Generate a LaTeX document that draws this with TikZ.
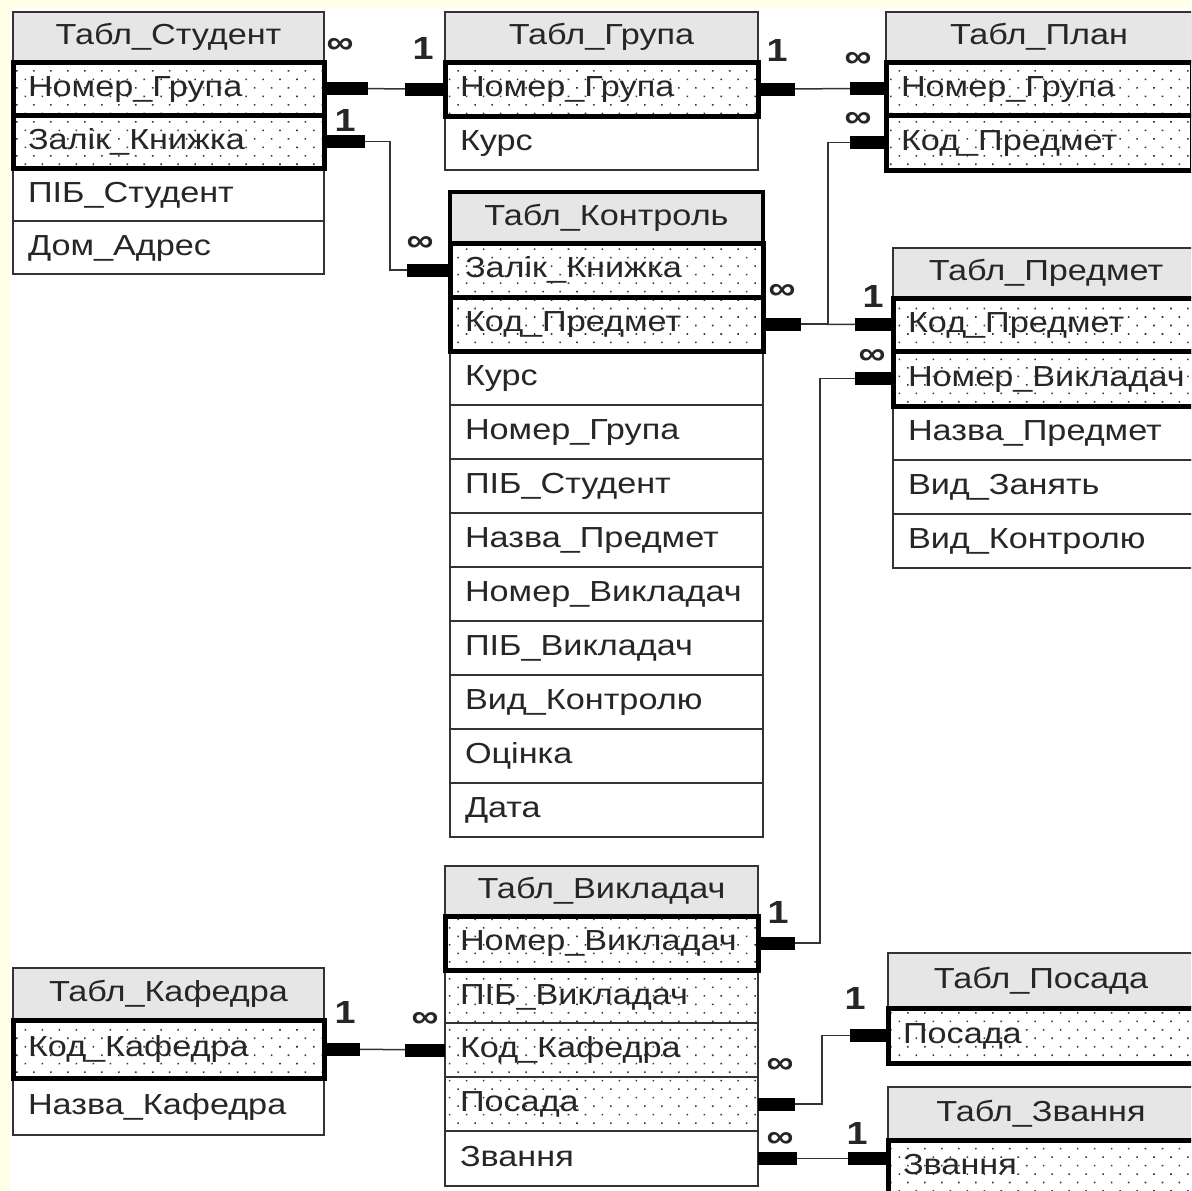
\documentclass[tikz,border=0pt]{standalone}
\usepackage{fontspec}
\setmainfont{Liberation Sans}[FakeStretch=1.18]
\usetikzlibrary{patterns.meta}
\definecolor{cream}{HTML}{FFFFE8}
\definecolor{hdrgray}{HTML}{E6E6E6}
\definecolor{frame}{HTML}{333333}
\tikzset{
 fld/.style={draw=frame, line width=1.5pt, anchor=north west, outer sep=0pt,
   inner xsep=15pt, inner ysep=0pt, text height=21pt, text depth=6pt,
   align=left, minimum height=#1, text=black!85,
   font=\fontsize{29}{32}\selectfont},
 fld/.default=54pt,
 dots/.style={pattern={Dots[distance=12pt, angle=45, radius=1.1pt]}, pattern color=black!80},
 dfld/.style={fld=#1, dots},
 dfld/.default=54pt,
 key/.style={fld=#1, dots, draw=black, line width=5pt},
 key/.default=54pt,
 hdr/.style={fld=#1, fill=hdrgray, align=center},
 hdr/.default=50pt,
 rel/.style={draw=black!80, line width=1.5pt},
 bar/.style={line width=13pt, line cap=butt},
 card/.style={font=\bfseries\fontsize{32}{32}\selectfont, inner sep=0pt, text=black!85}
}
\begin{document}
\begin{tikzpicture}[x=1pt, y=-1pt]
 \useasboundingbox (0,0) rectangle (1191,1191);
 \clip (0,0) rectangle (1191,1191);
 \fill[cream] (0,0) rectangle (1191,1191);
 \fill[white] (10,8) rectangle (1191,1191);

 % Табл_Студент
 \begin{scope}[every node/.append style={text width=281pt}]
 \path
 (13,12) node[hdr] (stud) {Табл\_Студент}
 (13,168) node[fld=53pt] (stud-pib) {ПІБ\_Студент}
 (13,221) node[fld=53pt] (stud-adr) {Дом\_Адрес}
 (13,62) node[key=53pt] (stud-grp) {Номер\_Група}
 (13,115) node[key=53pt] (stud-zk) {Залік\_Книжка};
 \end{scope}

 % Табл_Група
 \begin{scope}[every node/.append style={text width=283pt}]
 \path
 (445,12) node[hdr] (grp) {Табл\_Група}
 (445,116) node[fld] (grp-kurs) {Курс}
 (445,62) node[key] (grp-grp) {Номер\_Група};
 \end{scope}

 % Табл_План
 \begin{scope}[every node/.append style={text width=276pt}]
 \path
 (886,12) node[hdr] (plan) {Табл\_План}
 (886,62) node[key=53pt] (plan-grp) {Номер\_Група}
 (886,115) node[key=55pt] (plan-kod) {Код\_Предмет};
 \end{scope}

 % Табл_Контроль
 \begin{scope}[every node/.append style={text width=283pt}]
 \path
 (450,351) node[fld] (ctrl-kurs) {Курс}
 (450,405) node[fld] (ctrl-grp) {Номер\_Група}
 (450,459) node[fld] (ctrl-pib) {ПІБ\_Студент}
 (450,513) node[fld] (ctrl-nazva) {Назва\_Предмет}
 (450,567) node[fld] (ctrl-nv) {Номер\_Викладач}
 (450,621) node[fld] (ctrl-pibv) {ПІБ\_Викладач}
 (450,675) node[fld] (ctrl-vk) {Вид\_Контролю}
 (450,729) node[fld] (ctrl-oc) {Оцінка}
 (450,783) node[fld] (ctrl-data) {Дата}
 (450,192) node[hdr=51pt, draw=black, line width=4pt] (ctrl) {Табл\_Контроль}
 (450,243) node[key] (ctrl-zk) {Залік\_Книжка}
 (450,297) node[key] (ctrl-kod) {Код\_Предмет};
 \end{scope}

 % Табл_Предмет
 \begin{scope}[every node/.append style={text width=276pt}]
 \path
 (893,248) node[hdr] (subj) {Табл\_Предмет}
 (893,406) node[fld] (subj-nazva) {Назва\_Предмет}
 (893,460) node[fld] (subj-vz) {Вид\_Занять}
 (893,514) node[fld] (subj-vk) {Вид\_Контролю}
 (893,298) node[key=53pt] (subj-kod) {Код\_Предмет}
 (893,351) node[key=55pt] (subj-nv) {Номер\_Викладач};
 \end{scope}

 % Табл_Викладач
 \begin{scope}[every node/.append style={text width=283pt}]
 \path
 (445,866) node[hdr] (tchr) {Табл\_Викладач}
 (445,970) node[dfld=53pt] (tchr-pib) {ПІБ\_Викладач}
 (445,1023) node[dfld] (tchr-kod) {Код\_Кафедра}
 (445,1077) node[dfld] (tchr-pos) {Посада}
 (445,1131) node[fld=55pt] (tchr-zv) {Звання}
 (445,916) node[key] (tchr-nv) {Номер\_Викладач};
 \end{scope}

 % Табл_Кафедра
 \begin{scope}[every node/.append style={text width=281pt}]
 \path
 (13,968) node[hdr=52pt] (dept) {Табл\_Кафедра}
 (13,1078) node[fld=57pt] (dept-nazva) {Назва\_Кафедра}
 (13,1020) node[key=58pt] (dept-kod) {Код\_Кафедра};
 \end{scope}

 % Табл_Посада, Табл_Звання
 \begin{scope}[every node/.append style={text width=276pt}]
 \path
 (888,953) node[hdr=55pt] (post) {Табл\_Посада}
 (888,1008) node[key=55pt] (post-pos) {Посада}
 (888,1087) node[hdr=53pt] (rank) {Табл\_Звання}
 (888,1140) node[key] (rank-zv) {Звання};
 \end{scope}

 % connectors
 \draw[rel] (stud-grp.east) -- (grp-grp.west);
 \draw[rel] (stud-zk.east) -- ++(66,0) |- (ctrl-zk.west);
 \draw[rel] (grp-grp.east) -- (plan-grp.west);
 \draw[rel] (ctrl-kod.east) -- (subj-kod.west);
 \draw[rel] (plan-kod.west) -- ++(-58,0) |- (ctrl-kod.east);
 \draw[rel] (subj-nv.west) -- ++(-73,0) |- (tchr-nv.east);
 \draw[rel] (dept-kod.east) -- (tchr-kod.west);
 \draw[rel] (tchr-pos.east) -- ++(64,0) |- (post-pos.west);
 \draw[rel] (tchr-zv.east) -- (tchr-zv.east -| rank-zv.west);

 % end bars
 \draw[bar] (stud-grp.east) -- ++(44,0);
 \draw[bar] (grp-grp.west) -- ++(-40,0);
 \draw[bar] (stud-zk.east) -- ++(41,0);
 \draw[bar] (ctrl-zk.west) -- ++(-43,0);
 \draw[bar] (grp-grp.east) -- ++(37,0);
 \draw[bar] (plan-grp.west) -- ++(-36,0);
 \draw[bar] (plan-kod.west) -- ++(-36,0);
 \draw[bar] (ctrl-kod.east) -- ++(38,0);
 \draw[bar] (subj-kod.west) -- ++(-38,0);
 \draw[bar] (subj-nv.west) -- ++(-38,0);
 \draw[bar] (tchr-nv.east) -- ++(37,0);
 \draw[bar] (dept-kod.east) -- ++(36,0);
 \draw[bar] (tchr-kod.west) -- ++(-40,0);
 \draw[bar] (tchr-pos.east) -- ++(37,0);
 \draw[bar] (post-pos.west) -- ++(-38,0);
 \draw[bar] (tchr-zv.east) -- ++(39,0);
 \draw[bar] (tchr-zv.east -| rank-zv.west) -- ++(-40,0);

 % cardinalities
 \path
 (340,46) node[card] (c1) {∞}
 (423,48) node[card] (c2) {1}
 (345,120) node[card] (c3) {1}
 (420,244) node[card] (c4) {∞}
 (777,50) node[card] (c5) {1}
 (858,60) node[card] (c6) {∞}
 (858,120) node[card] (c7) {∞}
 (782,292) node[card] (c8) {∞}
 (873,296) node[card] (c9) {1}
 (872,357) node[card] (c10) {∞}
 (778,912) node[card] (c11) {1}
 (345,1012) node[card] (c12) {1}
 (425,1020) node[card] (c13) {∞}
 (855,998) node[card] (c14) {1}
 (780,1066) node[card] (c15) {∞}
 (780,1140) node[card] (c16) {∞}
 (857,1133) node[card] (c17) {1};
\end{tikzpicture}
\end{document}
